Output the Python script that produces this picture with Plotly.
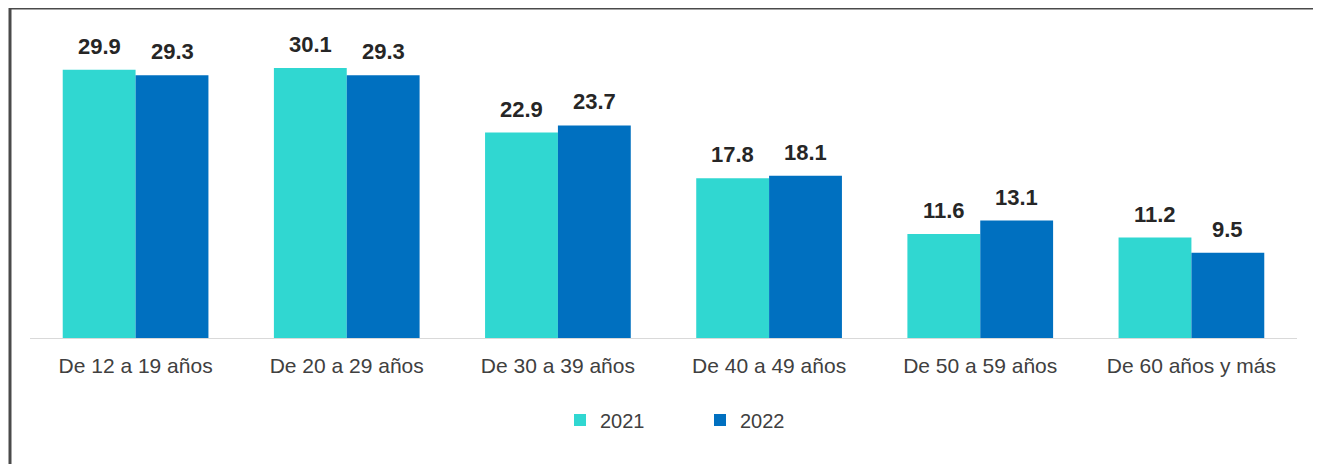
import plotly.graph_objects as go

categories = ["De 12 a 19 años", "De 20 a 29 años", "De 30 a 39 años",
              "De 40 a 49 años", "De 50 a 59 años", "De 60 años y más"]
values_2021 = [29.9, 30.1, 22.9, 17.8, 11.6, 11.2]
values_2022 = [29.3, 29.3, 23.7, 18.1, 13.1, 9.5]
series_names = ["2021", "2022"]
colors = ["#30D7D1", "#0070C0"]

W, H = 1321, 464
O = 8  # page body offset
# target plot area (reference pixel coords): x 30..1297, y 42..338
ml = 30 - O
mr = W - (1297 - O)
mt = 42 - O
mb = H - (338 - O)

FONT = "Liberation Sans, Arial, sans-serif"

fig = go.Figure()
for name, vals, col in zip(series_names, [values_2021, values_2022], colors):
    fig.add_trace(go.Bar(
        x=categories, y=vals, name=name, marker=dict(color=col, line=dict(width=0)),
        offsetgroup=name,
    ))

bar_w = (1 - 0.31) / 2
for i, vals in enumerate([values_2021, values_2022]):
    off = (-0.5 + i) * bar_w
    for j, v in enumerate(vals):
        fig.add_annotation(
            x=j + off, y=v, xref="x", yref="y", text=f"{v:.1f}",
            showarrow=False, yanchor="bottom", yshift=9,
            font=dict(family=FONT, size=22, color="#262626", weight="bold"),
        )

pw = W - ml - mr
ph = H - mt - mb
base = H - mb
fig.add_shape(
    type="rect", xref="paper", yref="paper",
    x0=(10 - O - ml) / pw, x1=(1315 - O - ml) / pw,
    y0=-(480 - base) / ph, y1=(base - (8 - O)) / ph,
    line=dict(color="#4A4A4A", width=3), fillcolor="rgba(0,0,0,0)", layer="above",
)

fig.update_layout(
    width=W, height=H,
    margin=dict(l=ml, r=mr, t=mt, b=mb),
    paper_bgcolor="white", plot_bgcolor="white",
    barmode="group", bargap=0.31, bargroupgap=0,
    showlegend=True,
    legend=dict(orientation="h", x=(700 - O - ml) / pw, xanchor="center",
                y=-(420 - O - base) / ph, yanchor="middle",
                font=dict(family=FONT, size=20, color="#404040"),
                entrywidth=95, entrywidthmode="pixels", itemclick=False),
    xaxis=dict(type="category", showline=True, linecolor="#D9D9D9", linewidth=1,
               showgrid=False, ticks="", ticklabelstandoff=9,
               tickfont=dict(family=FONT, size=21, color="#404040")),
    yaxis=dict(range=[0, 33], visible=False, showgrid=False, zeroline=False),
)

fig.write_html("out.html")
